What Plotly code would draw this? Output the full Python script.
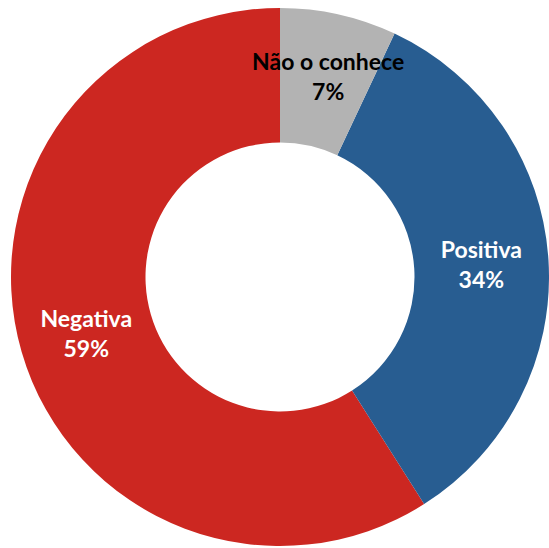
import plotly.graph_objects as go

# listed in counter-clockwise drawing order so the small grey slice's label is drawn last
labels = ["Negativa", "Positiva", "Não o conhece"]
values = [59, 34, 7]
colors = ["#CC2721", "#285D91", "#B3B3B3"]
text_colors = ["#FFFFFF", "#FFFFFF", "#000000"]

start_angle = 360 * (values[1] + values[2]) / sum(values)

base_tpl = "<b>%{label}</b><br><b>%{percent:.0%}</b>"
templates = [base_tpl, base_tpl, " <br>" + base_tpl]

fig = go.Figure(go.Pie(
    labels=labels,
    values=values,
    sort=False,
    direction="counterclockwise",
    rotation=start_angle,
    hole=0.5,
    marker=dict(colors=colors, line=dict(width=0)),
    texttemplate=templates,
    textposition="inside",
    insidetextorientation="horizontal",
    insidetextfont=dict(color=text_colors, family="Lato", size=23),
    domain=dict(x=[11/549, 1], y=[0, 1 - 6/548]),
    showlegend=False,
    hoverinfo="label+percent",
))

fig.update_layout(
    width=549, height=548,
    margin=dict(l=0, r=0, t=0, b=0),
    paper_bgcolor="white",
    plot_bgcolor="white",
    uniformtext=dict(minsize=23, mode="show"),
)

fig.write_html("out.html", config={"displayModeBar": False},
               post_script="document.body.style.margin='0';")
